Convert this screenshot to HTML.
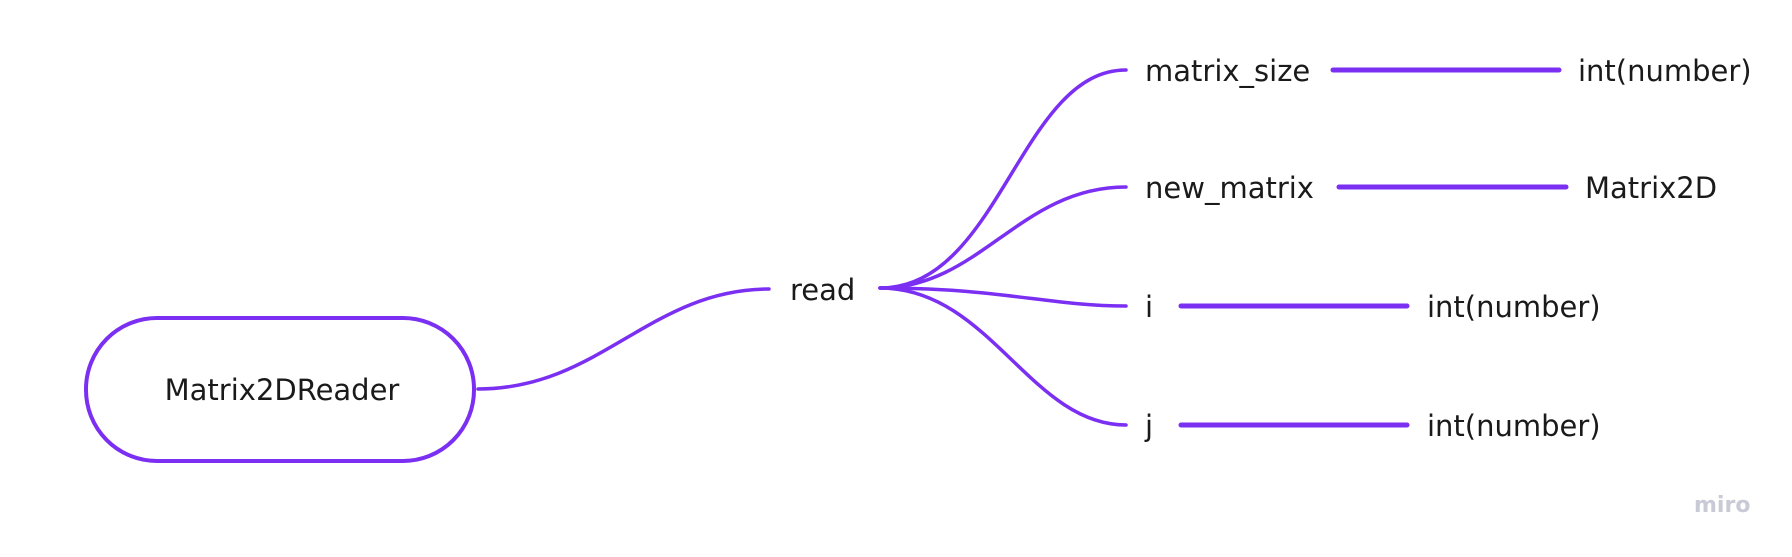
<!DOCTYPE html>
<html><head><meta charset="utf-8"><style>
html,body{margin:0;padding:0;background:#fff;}
svg{display:block;}
text{font-family:"DejaVu Sans","Liberation Sans",sans-serif;font-size:29px;fill:#1a1a1a;}
</style></head><body>
<svg width="1792" height="557" viewBox="0 0 1792 557" xmlns="http://www.w3.org/2000/svg">
<g fill="none" stroke="#7b2ff2" stroke-width="3.5" stroke-linecap="round">
<rect x="86" y="318" width="388" height="143" rx="71" ry="71" stroke-width="4"/>
<path d="M478 389 C600 389 650 289 769 289"/>
<path d="M880 288 C1000 288 1020 70 1126 70"/>
<path d="M880 288 C980 288 1020 187 1126 187"/>
<path d="M880 288 C1000 288 1050 306 1126 306"/>
<path d="M880 288 C990 288 1030 425 1126 425"/>
<line x1="1333" y1="70" x2="1559" y2="70" stroke-width="5"/>
<line x1="1339" y1="187" x2="1566" y2="187" stroke-width="5"/>
<line x1="1181" y1="306" x2="1407" y2="306" stroke-width="5"/>
<line x1="1181" y1="425" x2="1407" y2="425" stroke-width="5"/>
</g>
<text x="282" y="400" text-anchor="middle">Matrix2DReader</text>
<text x="790" y="300">read</text>
<text x="1145" y="81">matrix_size</text>
<text x="1145" y="198">new_matrix</text>
<text x="1145" y="317">i</text>
<text x="1145" y="436">j</text>
<text x="1578" y="81">int(number)</text>
<text x="1585" y="198">Matrix2D</text>
<text x="1427" y="317">int(number)</text>
<text x="1427" y="436">int(number)</text>
<text x="1694" y="512" style="font-size:22px;fill:#c8cad6;font-weight:bold">miro</text>
</svg>
</body></html>
